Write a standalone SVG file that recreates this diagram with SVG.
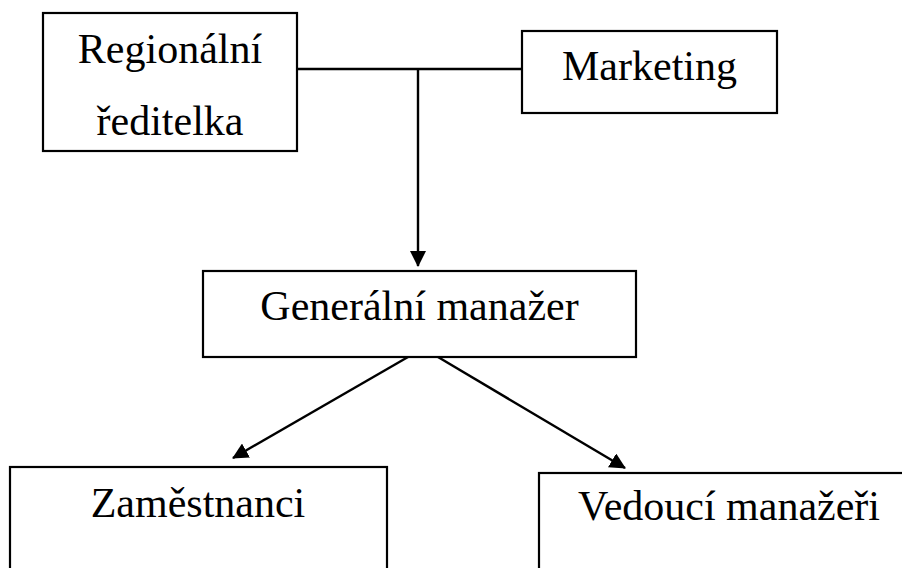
<svg xmlns="http://www.w3.org/2000/svg" width="902" height="568" viewBox="0 0 902 568">
<style>
.box{fill:#fff;stroke:#000;stroke-width:2.2}
.lbl{font-family:"Liberation Serif","Times New Roman",serif;font-size:42px;fill:#000;text-anchor:middle}
.con{fill:none;stroke:#000;stroke-width:2.4}
</style>
<defs>
<marker id="ah" viewBox="0 0 16 16" refX="15" refY="8" markerWidth="16" markerHeight="16" markerUnits="userSpaceOnUse" orient="auto">
<path d="M0,0 L16,8 L0,16 z" fill="#000"/>
</marker>
</defs>
<rect width="902" height="568" fill="#fff"/>
<g id="connectors">
<line class="con" x1="297" y1="69" x2="522" y2="69"/>
<line class="con" x1="418" y1="69" x2="418" y2="266" marker-end="url(#ah)"/>
<line class="con" x1="408" y1="357" x2="233" y2="458" marker-end="url(#ah)"/>
<line class="con" x1="438" y1="357" x2="625" y2="468" marker-end="url(#ah)"/>
</g>
<g id="regionalni">
<rect class="box" x="43" y="13" width="254" height="138"/>
<text class="lbl" x="170" y="63">Regionální</text>
<text class="lbl" x="170" y="135">ředitelka</text>
</g>
<g id="marketing">
<rect class="box" x="522" y="31" width="255" height="82"/>
<text class="lbl" x="649.5" y="80">Marketing</text>
</g>
<g id="generalni">
<rect class="box" x="203" y="271" width="433" height="86"/>
<text class="lbl" x="419.5" y="320">Generální manažer</text>
</g>
<g id="zamestnanci">
<rect class="box" x="10" y="467" width="377" height="140"/>
<text class="lbl" x="198" y="517">Zaměstnanci</text>
</g>
<g id="vedouci">
<rect class="box" x="539" y="473" width="380" height="140"/>
<text class="lbl" x="729" y="520">Vedoucí manažeři</text>
</g>
</svg>
